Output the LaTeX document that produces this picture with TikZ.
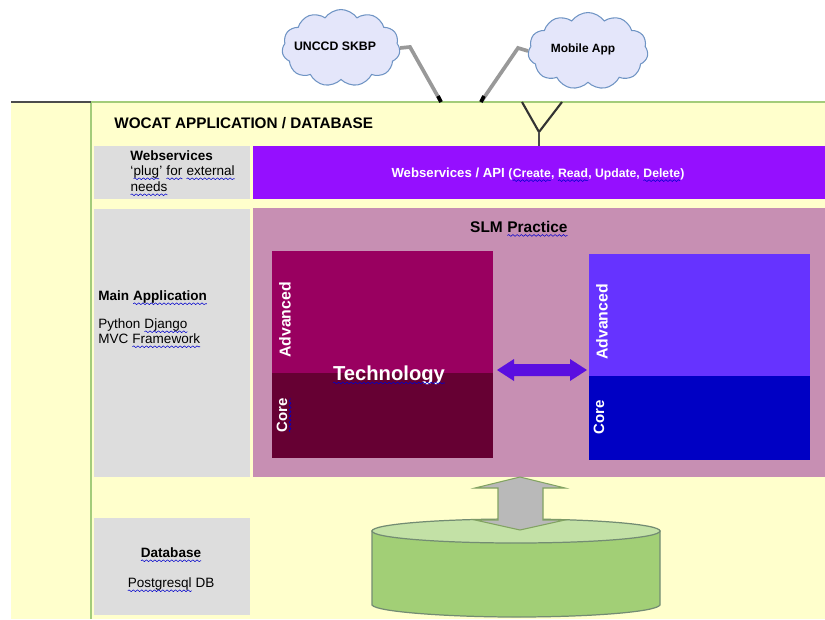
\documentclass[tikz,border=0pt]{standalone}
\usepackage{fontspec}
\setmainfont{Liberation Sans}
\usetikzlibrary{shapes.symbols,decorations.pathmorphing}
\definecolor{paleyellow}{HTML}{FFFFCC}
\definecolor{linegreen}{HTML}{A3CC7A}
\definecolor{sidegrey}{HTML}{DDDDDD}
\definecolor{apiviolet}{HTML}{950FFF}
\definecolor{arrowviolet}{HTML}{5A0FE0}
\definecolor{practicepink}{HTML}{C78FB3}
\definecolor{techlight}{HTML}{990060}
\definecolor{techdark}{HTML}{660033}
\definecolor{apprlight}{HTML}{6633FF}
\definecolor{apprdark}{HTML}{0000C4}
\definecolor{cloudfill}{HTML}{E4E6FA}
\definecolor{cloudline}{HTML}{6F94C4}
\definecolor{dbgreen}{HTML}{A2CF76}
\definecolor{dblight}{HTML}{C3E1A6}
\newcommand{\px}{*0.02cm}
\tikzset{
  block/.style={inner sep=0pt,outer sep=0pt,anchor=north west},
  side/.style={block,fill=sidegrey},
  label/.style={inner sep=0pt,font=\fontsize{7.7}{10}\selectfont,align=left},
  boldlabel/.style={label,font=\fontsize{7.7}{10}\selectfont\bfseries},
  vlabel/.style={boldlabel,rotate=90,text=white},
  webcloud/.style={cloud,cloud puffs=11,cloud puff arc=110,aspect=1.5,draw=cloudline,
    fill=cloudfill,inner sep=0pt,line width=.6pt},
  squiggle/.style={draw=blue!80!black,line width=.3pt,decorate,
    decoration={snake,amplitude=.5pt,segment length=2.4pt}},
  link/.style={line width=2.1pt,draw=gray!80},
}
\newcommand{\spl}[1]{\tikz[baseline=(wrd.base)]{\node[inner sep=0pt,outer sep=0pt] (wrd) {#1};
  \draw[squiggle] ([yshift=-1.6pt]wrd.base west) -- ([yshift=-1.6pt]wrd.base east);}}
\begin{document}
\begin{tikzpicture}[x=0.02cm,y=-0.02cm]
  \useasboundingbox (0,0) rectangle (825,619);
  % background
  \fill[paleyellow] (11,102) rectangle (825,619);
  \coordinate (bartop) at (825,102);
  \coordinate (barleft) at (91,102);
  \coordinate (barbottom) at (91,619);
  \draw[linegreen,line width=.8pt] (barleft) -- (bartop);
  \draw[linegreen,line width=1.2pt] (barleft) -- (barbottom);
  \draw[black!70,line width=.8pt] (11,102) -- (barleft);
  % title
  \node[boldlabel,anchor=west,font=\fontsize{8.7}{10}\selectfont\bfseries] (title) at (114,123) {WOCAT APPLICATION / DATABASE};
  % left column
  \node[side,minimum width=156\px,minimum height=53\px] (websvc) at (94,146) {};
  \node[side,minimum width=156\px,minimum height=268\px] (mainapp) at (94,209) {};
  \node[side,minimum width=156\px,minimum height=97\px] (database) at (94,518) {};
  \node[boldlabel,anchor=west] (websvctitle) at (130,156) {Webservices};
  \node[label,anchor=west] (plug) at (130,173) {`\spl{plug}' \spl{for} \spl{external}};
  \node[label,anchor=west] (needs) at (130,189) {\spl{needs}};
  \node[boldlabel,anchor=west] (mainapptitle) at (98,298) {Main \spl{Application}};
  \node[label,anchor=west] (python) at (98,326) {Python \spl{Django}};
  \node[label,anchor=west] (mvc) at (98,341) {MVC \spl{Framework}};
  \node[boldlabel] (dbtitle) at (171,555) {\spl{Database}};
  \node[label] (dbname) at (171,585) {\spl{Postgresql} DB};
  % api bar
  \node[block,fill=apiviolet,minimum width=572\px,minimum height=53\px] (api) at (253,146) {};
  \node[boldlabel,text=white,font=\fontsize{7.5}{10}\selectfont\bfseries] (apilabel) at (538,175) {Webservices / API {\fontsize{6.95}{10}\selectfont(\spl{Create}, \spl{Read}, Update, \spl{Delete})}};
  % practice
  \node[block,fill=practicepink,minimum width=572\px,minimum height=269\px] (practice) at (253,208) {};
  \node[boldlabel,font=\fontsize{8.8}{10}\selectfont\bfseries] (practicetitle) at (519,229) {SLM \spl{Practice}};
  % technology
  \node[block,fill=techlight,minimum width=221\px,minimum height=122\px] (techadv) at (272,251) {};
  \node[block,fill=techdark,minimum width=221\px,minimum height=85\px] (techcore) at (272,373) {};
  \node[vlabel,font=\fontsize{9}{10}\selectfont\bfseries] (techadvlabel) at (285,320) {Advanced};
  \node[vlabel,font=\fontsize{8.5}{10}\selectfont\bfseries] (techcorelabel) at (284,415) {\spl{Core}};
  \node[boldlabel,text=white,font=\fontsize{11.5}{12}\selectfont\bfseries] (techlabel) at (389,375) {\spl{Technology}};
  % approach
  \node[block,fill=apprlight,minimum width=221\px,minimum height=122\px] (appradv) at (589,254) {};
  \node[block,fill=apprdark,minimum width=221\px,minimum height=84\px] (apprcore) at (589,376) {};
  \node[vlabel,font=\fontsize{9}{10}\selectfont\bfseries] (appradvlabel) at (602,322) {Advanced};
  \node[vlabel,font=\fontsize{8.5}{10}\selectfont\bfseries] (apprcorelabel) at (599,417) {Core};
  % double arrow between
  \fill[arrowviolet] (497,370) -- (514,359) -- (514,364) -- (570,364) -- (570,359) -- (587,370)
    -- (570,381) -- (570,376) -- (514,376) -- (514,381) -- cycle;
  % cylinder
  \coordinate (dbnw) at (372,531);
  \coordinate (dbne) at (660,531);
  \coordinate (dbsw) at (372,605);
  \coordinate (dbse) at (660,605);
  \draw[gray!90!green,line width=.7pt,fill=dbgreen] (dbnw) -- (dbsw)
    .. controls (376,612) and (450,617) .. (516,617) .. controls (590,617) and (656,612) .. (dbse)
    -- (dbne) -- cycle;
  \draw[gray!90!green,line width=.7pt,fill=dblight] (516,531) ellipse [x radius=144,y radius=12];
  % arrow over cylinder
  \draw[linegreen!80!black,line width=.6pt,fill=gray!55] (520,477) -- (565,488) -- (543,488) -- (543,520)
    -- (565,520) -- (520,530) -- (475,520) -- (498,520) -- (498,488) -- (475,488) -- cycle;
  % clouds
  \node[webcloud,minimum width=118\px,minimum height=77\px] (skbp) at (341,48) {};
  \node[boldlabel,font=\fontsize{7}{10}\selectfont\bfseries] (skbplabel) at (335,46) {UNCCD SKBP};
  \node[webcloud,minimum width=120\px,minimum height=77\px] (mobile) at (588,51) {};
  \node[boldlabel,font=\fontsize{6.8}{10}\selectfont\bfseries] (mobilelabel) at (583,49) {Mobile App};
  % links
  \coordinate (skbpbend) at (410,47);
  \coordinate (skbpfoot) at (441,102);
  \coordinate (mobilebend) at (518,48);
  \coordinate (mobilefoot) at (481,102);
  \draw[link] (skbpfoot) -- (skbpbend) -- (skbp.east);
  \draw[link] (mobilefoot) -- (mobilebend) -- (mobile.west);
  \draw[black,line width=2.1pt] (skbpfoot) -- (438,96);
  \draw[black,line width=2.1pt] (mobilefoot) -- (484,96);
  % plug
  \coordinate (plugl) at (522,102);
  \coordinate (plugr) at (562,102);
  \coordinate (plugm) at (539,132);
  \coordinate (plugb) at (539,146);
  \draw[black!80,line width=1.2pt] (plugl) -- (plugm) -- (plugr);
  \draw[black!70,line width=1.2pt] (plugm) -- (plugb);
\end{tikzpicture}
\end{document}
